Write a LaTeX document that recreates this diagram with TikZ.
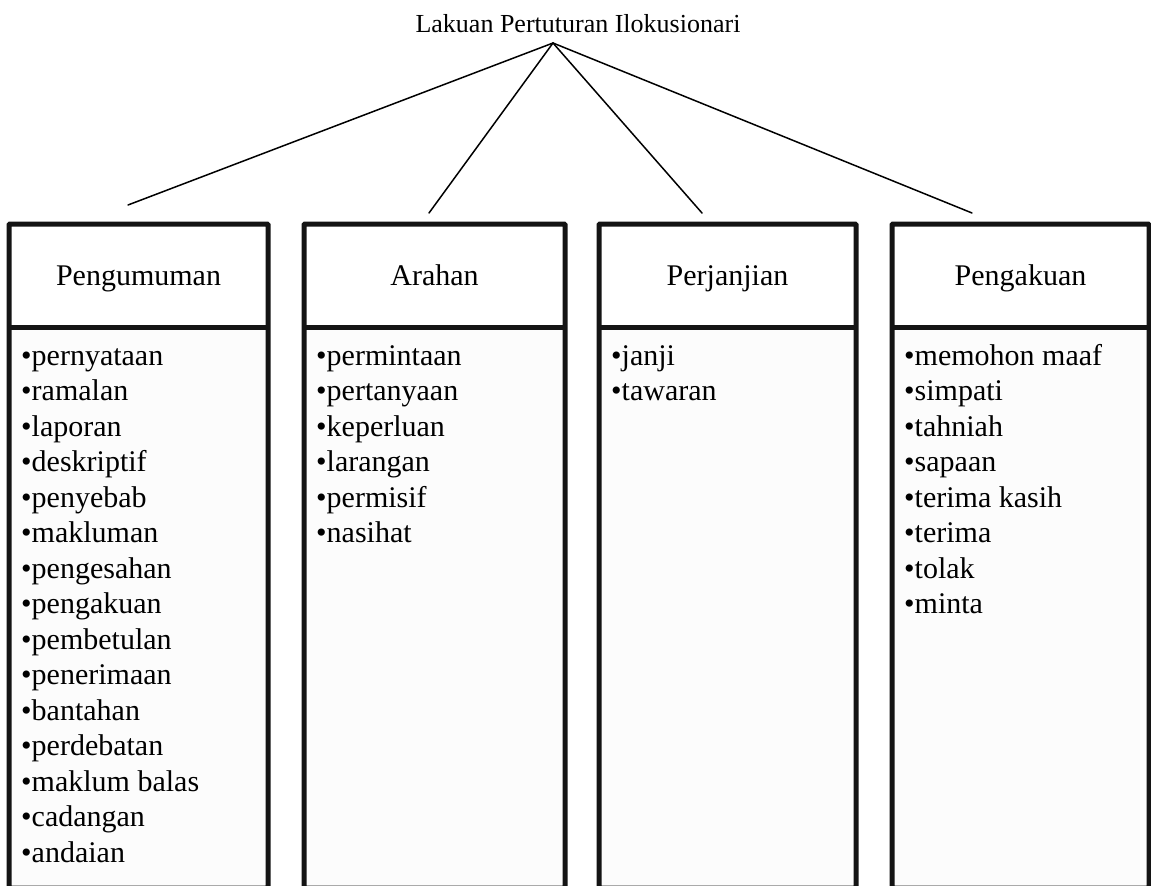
\documentclass[tikz,border=0pt]{standalone}
\usepackage{fontspec}
\setmainfont{Liberation Serif}
\definecolor{listbg}{RGB}{252,252,252}
\definecolor{framec}{RGB}{20,20,20}
\begin{document}
\begin{tikzpicture}[x=1pt,y=-1pt,
  frame/.style={line width=5pt, draw=framec, rounded corners=1pt},
  divider/.style={line width=5pt, draw=framec},
  conn/.style={line width=1.5pt, line cap=round},
  titletext/.style={font=\fontsize{26}{30}\selectfont, inner sep=0pt, anchor=base},
  headtext/.style={font=\fontsize{30}{34}\selectfont, inner sep=0pt, anchor=base},
  items/.style={font=\fontsize{30}{35.5}\selectfont, align=left, anchor=north west, inner sep=0pt}]
\useasboundingbox (0,0) rectangle (1151,886);
\fill[white] (0,0) rectangle (1151,886);

% boxes
\foreach \L/\R in {9/268, 304/565, 599/856, 892/1149}{
  \fill[listbg] (\L,327) rectangle (\R,886);
  \draw[frame] (\L,224) rectangle (\R,888);
  \draw[divider] (\L,327) -- (\R,327);
}

% title and connectors
\node[titletext] (title) at (578,32) {Lakuan Pertuturan Ilokusionari};
\coordinate (apex) at (553,43);
\coordinate (e1) at (128,205);
\coordinate (e2) at (429,213);
\coordinate (e3) at (702,213);
\coordinate (e4) at (972,213);
\draw[conn] (apex) -- (e1);
\draw[conn] (apex) -- (e2);
\draw[conn] (apex) -- (e3);
\draw[conn] (apex) -- (e4);

% headers
\node[headtext] (h1) at (138.5,285) {Pengumuman};
\node[headtext] (h2) at (434.5,285) {Arahan};
\node[headtext] (h3) at (727.5,285) {Perjanjian};
\node[headtext] (h4) at (1020.5,285) {Pengakuan};

% lists
\node[items] (l1) at (21,340.15) {\strut•pernyataan\\•ramalan\\•laporan\\•deskriptif\\•penyebab\\•makluman\\•pengesahan\\•pengakuan\\•pembetulan\\•penerimaan\\•bantahan\\•perdebatan\\•maklum balas\\•cadangan\\•andaian};
\node[items] (l2) at (316,340.15) {\strut•permintaan\\•pertanyaan\\•keperluan\\•larangan\\•permisif\\•nasihat};
\node[items] (l3) at (611,340.15) {\strut•janji\\•tawaran};
\node[items] (l4) at (904,340.15) {\strut•memohon maaf\\•simpati\\•tahniah\\•sapaan\\•terima kasih\\•terima\\•tolak\\•minta};
\end{tikzpicture}
\end{document}
